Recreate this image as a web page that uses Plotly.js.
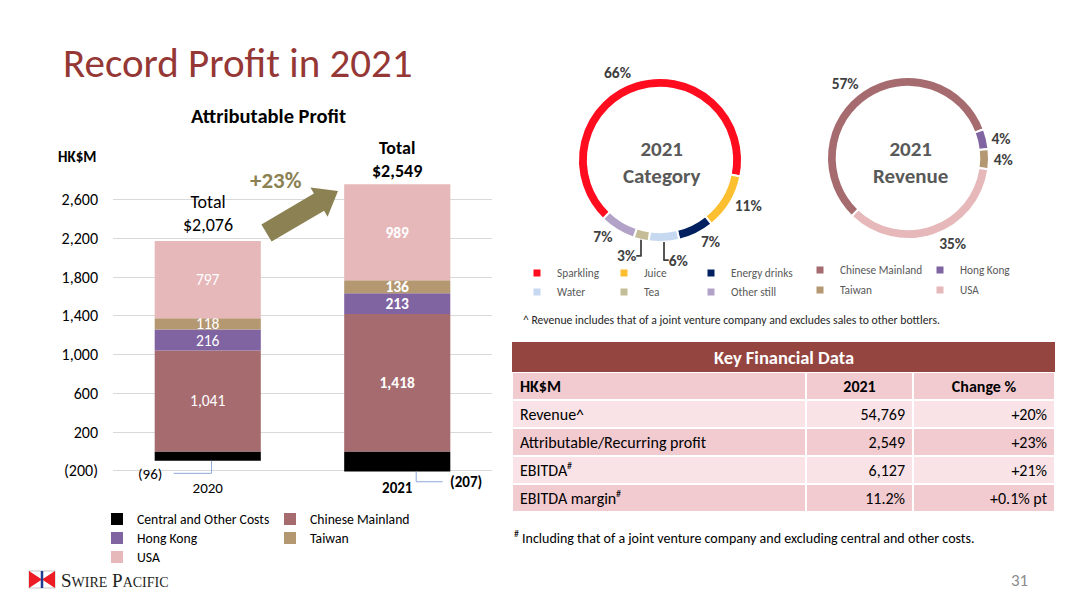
<!DOCTYPE html>
<html><head><meta charset="utf-8">
<script src="https://cdn.plot.ly/plotly-3.0.1.min.js"></script>
<style>html,body{margin:0;padding:0;background:#fff;} #chart{width:1080px;height:608px;}</style>
</head><body><div id="chart"></div>
<script>
// ---------------- Data ----------------
const years = ['2020', '2021'];
const centralCosts = [-96, -207];
const chineseMainland = [1041, 1418];
const hongKong = [216, 213];
const taiwan = [118, 136];
const usa = [797, 989];
const barSeriesNames = ['Central and Other Costs', 'Chinese Mainland', 'Hong Kong', 'Taiwan', 'USA'];

const yTickVals = [-200, 200, 600, 1000, 1400, 1800, 2200, 2600];
const yTickText = ['(200)', '200', '600', '1,000', '1,400', '1,800', '2,200', '2,600'];

const categoryLabels = ['Sparkling', 'Juice', 'Energy drinks', 'Water', 'Tea', 'Other still'];
const categoryShares = [66, 11, 7, 6, 3, 7];
const regionLabels = ['Chinese Mainland', 'Hong Kong', 'Taiwan', 'USA'];
const regionShares = [57, 4, 4, 35];

const tableTitle = 'Key Financial Data';
const tableHeader = ['HK$M', '2021', 'Change %'];
const tableMetrics = ['Revenue^', 'Attributable/Recurring profit', 'EBITDA', 'EBITDA margin'];
const tableMetricNotes = ['', '', '#', '#'];
const table2021 = ['54,769', '2,549', '6,127', '11.2%'];
const tableChange = ['+20%', '+23%', '+21%', '+0.1% pt'];

// ---------------- Style ----------------
const FONT = 'Carlito, Lato, "Open Sans", sans-serif';
const barColors = ['#000000', '#A66B6F', '#8064A2', '#B49872', '#E6B8BA'];
const catColors = ['#FF0D1F', '#FBBF2F', '#002060', '#C6D9F1', '#C4BD97', '#B3A2C7'];
const regColors = ['#A66B6F', '#8064A2', '#B49872', '#E6B8BA'];
const W = 1080, H = 608;
const px = x => x / W;
const py = y => 1 - y / H;
const yearNum = years.map(Number);

const barSeries = [centralCosts, chineseMainland, hongKong, taiwan, usa];
const legendOfBar = ['legend', 'legend', 'legend2', 'legend2', 'legend3'];

const traces = [];
barSeries.forEach((vals, i) => {
  traces.push({
    type: 'bar', name: barSeriesNames[i], x: yearNum, y: vals,
    marker: {color: barColors[i], line: {width: 0}},
    texttemplate: i === 0 ? '' : ['%{y:,}', '<b>%{y:,}</b>'],
    textposition: i === 0 ? 'none' : 'inside',
    insidetextanchor: 'middle',
    textfont: {family: FONT, size: 15.5, color: '#FFFFFF'},
    legend: legendOfBar[i], hoverinfo: 'x+y+name'
  });
});

// pies
const catDomain = {x: [px(578), px(742)], y: [py(242), py(78)]};
const regDomain = {x: [px(827), px(989)], y: [py(239), py(77)]};
const pieFont = {family: FONT, size: 14, color: '#404040', weight: 'bold'};
traces.push({
  type: 'pie', labels: categoryLabels, values: categoryShares, hole: 0.88, sort: false,
  direction: 'clockwise', rotation: 224, domain: catDomain,
  marker: {colors: catColors, line: {color: '#FFFFFF', width: 2}},
  texttemplate: '%{value}%', textposition: 'outside', textfont: pieFont, showlegend: false
});
traces.push({
  type: 'pie', labels: regionLabels, values: regionShares, hole: 0.88, sort: false,
  direction: 'clockwise', rotation: 224, domain: regDomain,
  marker: {colors: regColors, line: {color: '#FFFFFF', width: 2}},
  texttemplate: '%{value}%', textposition: 'outside', textfont: pieFont, showlegend: false
});
// legend entries for the donuts
const catLegendOf = ['legend4', 'legend5', 'legend6', 'legend4', 'legend5', 'legend6'];
categoryLabels.forEach((lab, i) => {
  traces.push({type: 'scatter', mode: 'markers', x: [null], y: [null], name: lab,
    marker: {symbol: 'square', size: 7, color: catColors[i]},
    legend: catLegendOf[i], hoverinfo: 'skip'});
});
regionLabels.forEach((lab, i) => {
  traces.push({type: 'scatter', mode: 'markers', x: [null], y: [null], name: lab,
    marker: {symbol: 'square', size: 7, color: regColors[i]},
    legend: i < 2 ? 'legend7' : 'legend8', hoverinfo: 'skip'});
});

// table
const rowFills = ['#F9E3E6', '#F2CBD0', '#F9E3E6', '#F2CBD0'];
traces.push({
  type: 'table', domain: {x: [px(512), px(1055)], y: [py(514), py(372)]},
  columnwidth: [294, 107, 142],
  header: {values: tableHeader, align: ['left', 'center', 'center'],
    height: 28, fill: {color: '#F2CBD0'}, line: {color: '#FFFFFF', width: 2},
    font: {family: FONT, size: 16, color: '#000000', weight: 'bold'}},
  cells: {values: [tableMetrics, table2021, tableChange], align: ['left', 'right', 'right'],
    height: 28, fill: {color: [rowFills]}, line: {color: '#FFFFFF', width: 2},
    font: {family: FONT, size: 16, color: '#000000'}}
});

// ---------------- Annotations ----------------
const posSum = years.map((_, i) => chineseMainland[i] + hongKong[i] + taiwan[i] + usa[i]);
const totals = years.map((_, i) => posSum[i] + centralCosts[i]);
const fmt = v => v.toLocaleString('en-US');
const growth = Math.round((totals[1] / totals[0] - 1) * 100);

const ann = [];
ann.push({xref: 'paper', yref: 'paper', x: px(61), y: py(63), xanchor: 'left', yanchor: 'middle', showarrow: false,
  text: 'Record Profit in 2021', font: {family: FONT, size: 41, color: '#953735'}});
ann.push({xref: 'paper', yref: 'paper', x: px(268), y: py(116), xanchor: 'center', yanchor: 'middle', showarrow: false,
  text: '<b>Attributable Profit</b>', font: {family: FONT, size: 20.5, color: '#000'}});
ann.push({xref: 'paper', yref: 'paper', x: px(56), y: py(157), xanchor: 'left', yanchor: 'middle', showarrow: false,
  text: '<b>HK$M</b>', font: {family: FONT, size: 15, color: '#000'}});
years.forEach((yr, i) => {
  const t = 'Total<br>$' + fmt(totals[i]);
  ann.push({xref: 'x', yref: 'y', x: yearNum[i], y: posSum[i], xanchor: 'center', yanchor: 'bottom', yshift: i === 0 ? 3 : 0,
    showarrow: false, text: i === 1 ? '<b>' + t + '</b>' : t, font: {family: FONT, size: 18, color: '#000'}});
});
ann.push({xref: 'paper', yref: 'paper', x: px(276), y: py(180), xanchor: 'center', yanchor: 'middle', showarrow: false,
  text: '<b>+' + growth + '%</b>', font: {family: FONT, size: 23, color: '#8C8153'}});
// central costs labels
ann.push({xref: 'x', yref: 'y', x: yearNum[0] - 0.305, y: centralCosts[0] - 137, xanchor: 'center', yanchor: 'middle', showarrow: false,
  text: '(' + Math.abs(centralCosts[0]) + ')', font: {family: FONT, size: 15, color: '#000'}});
ann.push({xref: 'x', yref: 'y', x: yearNum[1] + 0.363, y: centralCosts[1] - 109, xanchor: 'center', yanchor: 'middle', showarrow: false,
  text: '<b>(' + Math.abs(centralCosts[1]) + ')</b>', font: {family: FONT, size: 15, color: '#000'}});
// donut centres
ann.push({xref: 'paper', yref: 'paper', x: px(661), y: py(162), xanchor: 'center', yanchor: 'middle', showarrow: false,
  text: '<b>2021<br>Category</b>', font: {family: FONT, size: 21, color: '#595959'}});
ann.push({xref: 'paper', yref: 'paper', x: px(910), y: py(162), xanchor: 'center', yanchor: 'middle', showarrow: false,
  text: '<b>2021<br>Revenue</b>', font: {family: FONT, size: 21, color: '#595959'}});
// table title bar text
ann.push({xref: 'paper', yref: 'paper', x: px(783.5), y: py(357), xanchor: 'center', yanchor: 'middle', showarrow: false,
  text: '<b>' + tableTitle + '</b>', font: {family: FONT, size: 18.5, color: '#FFFFFF'}});
// superscript note markers in the table (rows start at y=400, 28px each)
const noteX = [0, 0, 565, 614];
tableMetricNotes.forEach((n, i) => {
  if (!n) return;
  ann.push({xref: 'paper', yref: 'paper', x: px(noteX[i]), y: py(400 + i * 28 + 9), xanchor: 'left', yanchor: 'middle',
    showarrow: false, text: n, font: {family: FONT, size: 10, color: '#000'}});
});
// footnotes
ann.push({xref: 'paper', yref: 'paper', x: px(521), y: py(320), xanchor: 'left', yanchor: 'middle', showarrow: false,
  text: '^ Revenue includes that of a joint venture company and excludes sales to other bottlers.',
  font: {family: FONT, size: 11.7, color: '#262626'}});
ann.push({xref: 'paper', yref: 'paper', x: px(512), y: py(537), xanchor: 'left', yanchor: 'middle', showarrow: false,
  text: '<sup>#</sup> Including that of a joint venture company and excluding central and other costs.',
  font: {family: FONT, size: 14, color: '#000'}});
// logo text & page number
ann.push({xref: 'paper', yref: 'paper', x: px(59), y: py(580), xanchor: 'left', yanchor: 'middle', showarrow: false,
  text: 'S<span style="font-size:14px">WIRE</span> P<span style="font-size:14px">ACIFIC</span>',
  font: {family: '"Liberation Serif", serif', size: 19, color: '#231F20'}});
ann.push({xref: 'paper', yref: 'paper', x: px(1019), y: py(580), xanchor: 'center', yanchor: 'middle', showarrow: false,
  text: '31', font: {family: FONT, size: 17, color: '#8C8C8C'}});

// ---------------- Shapes ----------------
const shapes = [];
// growth arrow (decorative)
const arrowPts = [[261.4, 224.4], [313.9, 193.5], [310.4, 187.4], [338, 191], [327.6, 216.8], [324.1, 210.7], [271.6, 241.6]];
shapes.push({type: 'path', xref: 'paper', yref: 'paper',
  path: 'M' + arrowPts.map(p => px(p[0]) + ',' + py(p[1])).join(' L') + ' Z',
  fillcolor: '#8C8153', line: {width: 0}});
// leader lines for central costs
shapes.push({type: 'path', xref: 'x', yref: 'y', layer: 'above',
  path: `M ${yearNum[0] + 0.02},${centralCosts[0]} L ${yearNum[0] + 0.02},${centralCosts[0] - 130} L ${yearNum[0] - 0.18},${centralCosts[0] - 130}`,
  line: {color: '#8EA9DB', width: 1}});
shapes.push({type: 'path', xref: 'x', yref: 'y', layer: 'above',
  path: `M ${yearNum[1] + 0.10},${centralCosts[1]} L ${yearNum[1] + 0.10},${centralCosts[1] - 106} L ${yearNum[1] + 0.24},${centralCosts[1] - 106}`,
  line: {color: '#8EA9DB', width: 1}});
// table title bar
shapes.push({type: 'rect', xref: 'paper', yref: 'paper', x0: px(512), x1: px(1055), y0: py(372), y1: py(342),
  fillcolor: '#94453F', line: {width: 0}});
// logo flag
shapes.push({type: 'rect', xref: 'paper', yref: 'paper', x0: px(29), x1: px(55), y0: py(588), y1: py(571),
  fillcolor: '#FFFFFF', line: {color: '#888', width: 0.5}});
shapes.push({type: 'path', xref: 'paper', yref: 'paper',
  path: `M${px(29)},${py(571)} L${px(42)},${py(579.5)} L${px(29)},${py(588)} Z M${px(55)},${py(571)} L${px(42)},${py(579.5)} L${px(55)},${py(588)} Z`,
  fillcolor: '#ED1C24', line: {width: 0}});
shapes.push({type: 'line', xref: 'paper', yref: 'paper', x0: px(42), x1: px(42), y0: py(571), y1: py(588),
  line: {color: '#1F3A93', width: 2.5}});

// ---------------- Legends ----------------
function legH(x, y, size, color, ew) {
  return {orientation: 'h', x: px(x), y: py(y), xanchor: 'left', yanchor: 'middle', traceorder: 'normal',
    font: {family: FONT, size: size, color: color}, bgcolor: 'rgba(0,0,0,0)', entrywidth: ew,
    itemclick: false, itemdoubleclick: false, itemwidth: 30, tracegroupgap: 0};
}
function legV(x, yTop, size, color) {
  return {orientation: 'v', x: px(x), y: py(yTop), xanchor: 'left', yanchor: 'top', traceorder: 'normal',
    font: {family: FONT, size: size, color: color}, bgcolor: 'rgba(0,0,0,0)',
    itemclick: false, itemdoubleclick: false, itemwidth: 30, tracegroupgap: 0};
}

const layout = {
  width: W, height: H, margin: {l: 0, r: 0, t: 0, b: 0}, paper_bgcolor: '#FFFFFF', plot_bgcolor: 'rgba(0,0,0,0)',
  font: {family: FONT, color: '#000'},
  barmode: 'relative', bargap: 0.44,
  xaxis: {domain: [px(113), px(492)], anchor: 'free', position: py(477), type: 'linear', range: [2019.5, 2021.5],
    tickvals: yearNum, ticktext: [years[0], '<b>' + years[1] + '</b>'], showgrid: false, showline: false, zeroline: false,
    ticks: '', tickfont: {family: FONT, size: 15, color: '#000'}, fixedrange: true},
  yaxis: {domain: [py(486.3), py(180.1)], range: [-360, 2800], anchor: 'x', tickvals: yTickVals, ticktext: yTickText,
    showgrid: true, gridcolor: '#D9D9D9', gridwidth: 1, zeroline: false, showline: false, ticks: '',
    ticklabelstandoff: 14, tickfont: {family: FONT, size: 16, color: '#000'}, fixedrange: true},
  uniformtext: {mode: 'show', minsize: 15.5},
  showlegend: true,
  legend: legH(97, 519, 13.7, '#000', 128),
  legend2: legH(97, 538, 13.7, '#000', 128),
  legend3: legH(97, 557, 13.7, '#000', 128),
  legend4: legV(517, 258.5, 11.3, '#595959'),
  legend5: legV(604, 258.5, 11.3, '#595959'),
  legend6: legV(691, 258.5, 11.3, '#595959'),
  legend7: legH(800, 270, 11.3, '#595959', 75),
  legend8: legH(800, 290, 11.3, '#595959', 75),
  annotations: ann, shapes: shapes
};

Plotly.newPlot('chart', traces, layout, {displayModeBar: false});
</script></body></html>
